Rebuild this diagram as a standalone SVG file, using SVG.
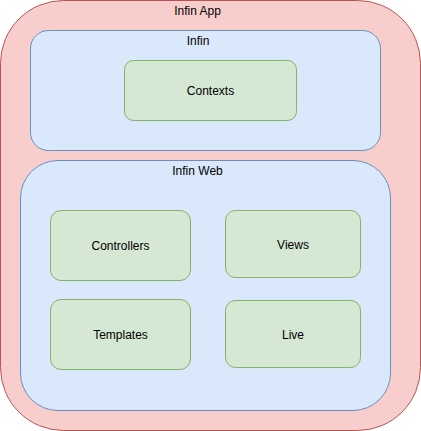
<svg xmlns="http://www.w3.org/2000/svg" width="421" height="431" viewBox="0 0 421 431">
<style>
.red{fill:#f8cecc;stroke:#b85450;stroke-width:1}
.blue{fill:#dae8fc;stroke:#6c8ebf;stroke-width:1}
.green{fill:#d5e8d4;stroke:#82b366;stroke-width:1}
text{font-family:"Liberation Sans",Arial,sans-serif;font-size:12px;fill:#000;text-anchor:middle}
</style>
<rect width="421" height="431" fill="#fff"/>
<g id="infin-app">
<rect class="red" x="0.5" y="0.5" width="420" height="430" rx="63" ry="63"/>
<text x="197.5" y="15">Infin App</text>
</g>
<g id="infin">
<rect class="blue" x="30.5" y="30.5" width="350" height="120" rx="18" ry="18"/>
<text x="198" y="45">Infin</text>
</g>
<g id="infin-web">
<rect class="blue" x="20.5" y="160.5" width="370" height="250" rx="37.5" ry="37.5"/>
<text x="197.5" y="175">Infin Web</text>
</g>
<g id="contexts">
<rect class="green" x="124.5" y="60.5" width="172" height="60" rx="9" ry="9"/>
<text x="210.5" y="94.5">Contexts</text>
</g>
<g id="controllers">
<rect class="green" x="50.5" y="210.5" width="140" height="70" rx="10.5" ry="10.5"/>
<text x="120.5" y="249.5">Controllers</text>
</g>
<g id="views">
<rect class="green" x="225.5" y="210.5" width="135" height="67" rx="10" ry="10"/>
<text x="293" y="248.5">Views</text>
</g>
<g id="templates">
<rect class="green" x="50.5" y="299.5" width="140" height="70" rx="10.5" ry="10.5"/>
<text x="120.5" y="338.5">Templates</text>
</g>
<g id="live">
<rect class="green" x="225.5" y="300.5" width="135" height="67" rx="10" ry="10"/>
<text x="293" y="338.5">Live</text>
</g>
<g id="connectors"></g>
</svg>
